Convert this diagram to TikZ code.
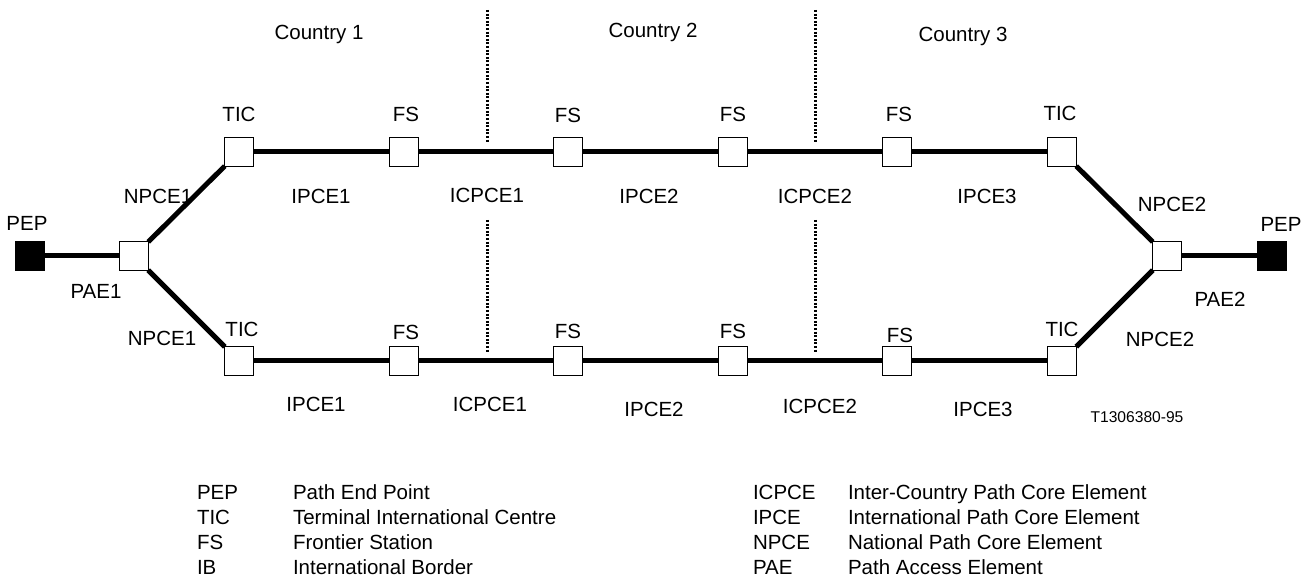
\documentclass[tikz,border=0pt]{standalone}
\usepackage{fontspec}
\setmainfont{Liberation Sans}
\begin{document}
\begin{tikzpicture}[x=10pt, y=10pt]
\tikzset{ inner sep=0pt, outer sep=0pt,
  box/.style={draw, fill=white, line width=1.4pt, minimum size=28.5pt},
  pepbox/.style={draw, fill=black, line width=1.4pt, minimum size=28.5pt},
  txt/.style={anchor=base, font=\fontsize{20.5}{25}\selectfont},
  leg/.style={anchor=base west, font=\fontsize{20.5}{25}\selectfont},
  core/.style={line width=5pt},
  border/.style={line width=3pt, dash pattern=on 2pt off 1.6pt},
}

\useasboundingbox (0,0) rectangle (131.1,57.8);

%\draw [lightgray, dashed](0,0) grid (131,57);

% international borders
\coordinate (IBat) at (48.7,56.8);
\coordinate (IBab) at (48.7,43.5);
\coordinate (IBbt) at (81.5,56.8);
\coordinate (IBbb) at (81.5,43.5);
\coordinate (IBct) at (48.7,35.8);
\coordinate (IBcb) at (48.7,22.5);
\coordinate (IBdt) at (81.5,35.8);
\coordinate (IBdb) at (81.5,22.5);

\draw [border] (IBat) -- (IBab);
\draw [border] (IBbt) -- (IBbb);
\draw [border] (IBct) -- (IBcb);
\draw [border] (IBdt) -- (IBdb);

% end points and access elements
\node [pepbox] (PEPL) at (3.0,32.2) {};
\node [box]    (PAEL) at (13.4,32.2) {};
\node [box]    (PAER) at (116.7,32.2) {};
\node [pepbox] (PEPR) at (127.2,32.2) {};

% upper path
\node [box] (TICtl) at (23.9,42.6) {};
\node [box] (FSat)  at (40.4,42.6) {};
\node [box] (FSbt)  at (56.8,42.6) {};
\node [box] (FSct)  at (73.3,42.6) {};
\node [box] (FSdt)  at (89.7,42.6) {};
\node [box] (TICtr) at (106.2,42.6) {};

% lower path
\node [box] (TICbl) at (23.9,21.7) {};
\node [box] (FSab)  at (40.4,21.7) {};
\node [box] (FSbb)  at (56.8,21.7) {};
\node [box] (FScb)  at (73.3,21.7) {};
\node [box] (FSdb)  at (89.7,21.7) {};
\node [box] (TICbr) at (106.2,21.7) {};

\draw [core] (PEPL) -- (PAEL);
\draw [core] (PAEL) -- (TICtl);
\draw [core] (PAEL) -- (TICbl);

\draw [core] (TICtl) -- (FSat);
\draw [core] (FSat)  -- (FSbt);
\draw [core] (FSbt)  -- (FSct);
\draw [core] (FSct)  -- (FSdt);
\draw [core] (FSdt)  -- (TICtr);

\draw [core] (TICbl) -- (FSab);
\draw [core] (FSab)  -- (FSbb);
\draw [core] (FSbb)  -- (FScb);
\draw [core] (FScb)  -- (FSdb);
\draw [core] (FSdb)  -- (TICbr);

\draw [core] (TICtr) -- (PAER);
\draw [core] (TICbr) -- (PAER);
\draw [core] (PAER)  -- (PEPR);

% countries
\node [txt] (C1) at (31.9,53.8) {Country 1};
\node [txt] (C2) at (65.3,54.0) {Country 2};
\node [txt] (C3) at (96.3,53.6) {Country 3};

% station labels
\node [txt] (lTICtl) at (23.9,45.6) {TIC};
\node [txt] (lFSat)  at (40.6,45.6) {FS};
\node [txt] (lFSbt)  at (56.8,45.5) {FS};
\node [txt] (lFSct)  at (73.3,45.6) {FS};
\node [txt] (lFSdt)  at (89.9,45.6) {FS};
\node [txt] (lTICtr) at (106.0,45.7) {TIC};

\node [txt] (lTICbl) at (24.2,24.1) {TIC};
\node [txt] (lFSab)  at (40.6,23.8) {FS};
\node [txt] (lFSbb)  at (56.8,23.9) {FS};
\node [txt] (lFScb)  at (73.3,23.9) {FS};
\node [txt] (lFSdb)  at (90.0,23.5) {FS};
\node [txt] (lTICbr) at (106.2,24.1) {TIC};

\node [txt] (lPEPL) at (2.7,34.7) {PEP};
\node [txt] (lPAEL) at (9.6,27.9) {PAE1};
\node [txt] (lPEPR) at (128.1,34.6) {PEP};
\node [txt] (lPAER) at (122.0,27.1) {PAE2};

% path element labels
\node [txt] (nta) at (15.8,37.4) {NPCE1};
\node [txt] (nba) at (16.2,23.2) {NPCE1};
\node [txt] (ntb) at (117.2,36.6) {NPCE2};
\node [txt] (nbb) at (116.0,23.1) {NPCE2};

\node [txt] (ita) at (32.1,37.4) {IPCE1};
\node [txt] (cta) at (48.7,37.5) {ICPCE1};
\node [txt] (itb) at (64.9,37.4) {IPCE2};
\node [txt] (ctb) at (81.5,37.4) {ICPCE2};
\node [txt] (itc) at (98.7,37.4) {IPCE3};

\node [txt] (iba) at (31.6,16.6) {IPCE1};
\node [txt] (cba) at (49.0,16.6) {ICPCE1};
\node [txt] (ibb) at (65.4,16.1) {IPCE2};
\node [txt] (cbb) at (82.0,16.4) {ICPCE2};
\node [txt] (ibc) at (98.3,16.1) {IPCE3};

\node [txt, font=\fontsize{15.6}{18}\selectfont] (ref) at (113.7,15.5) {T1306380-95};

% legend
\node [leg] (kPEP)  at (19.7,7.87) {PEP};
\node [leg] (kTIC)  at (19.7,5.37) {TIC};
\node [leg] (kFS)   at (19.7,2.87) {FS};
\node [leg] (kIB)   at (19.7,0.37) {IB};
\node [leg] (dPEP)  at (29.3,7.87) {Path End Point};
\node [leg] (dTIC)  at (29.3,5.37) {Terminal International Centre};
\node [leg] (dFS)   at (29.3,2.87) {Frontier Station};
\node [leg] (dIB)   at (29.3,0.37) {International Border};

\node [leg] (kICPCE) at (75.3,7.87) {ICPCE};
\node [leg] (kIPCE)  at (75.3,5.37) {IPCE};
\node [leg] (kNPCE)  at (75.3,2.87) {NPCE};
\node [leg] (kPAE)   at (75.3,0.37) {PAE};
\node [leg] (dICPCE) at (84.8,7.87) {Inter-Country Path Core Element};
\node [leg] (dIPCE)  at (84.8,5.37) {International Path Core Element};
\node [leg] (dNPCE)  at (84.8,2.87) {National Path Core Element};
\node [leg] (dPAE)   at (84.8,0.37) {Path Access Element};

\end{tikzpicture}
\end{document}
